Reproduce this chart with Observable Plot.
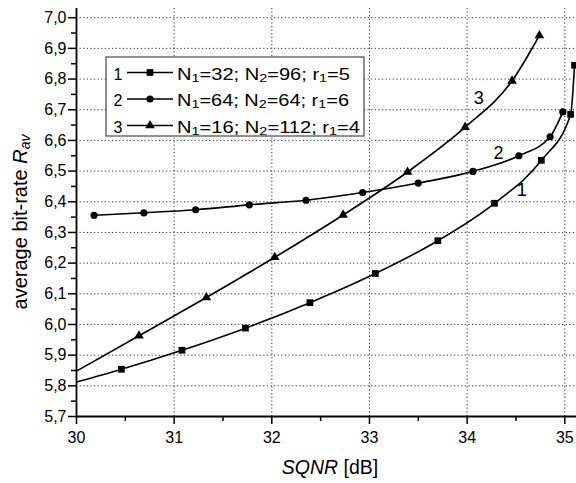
<!DOCTYPE html>
<html><head><meta charset="utf-8">
<script src="https://cdn.jsdelivr.net/npm/d3@7"></script>
<script src="https://cdn.jsdelivr.net/npm/@observablehq/plot@0.6"></script>
<style>body{margin:0;background:#fff} #chart svg{display:block}</style>
</head><body><div id="chart"></div>
<script>
// tick values
const xTicks = [30, 31, 32, 33, 34, 35];
const xMinorTicks = [30.5, 31.5, 32.5, 33.5, 34.5];
const yTicks = [5.7, 5.8, 5.9, 6.0, 6.1, 6.2, 6.3, 6.4, 6.5, 6.6, 6.7, 6.8, 6.9, 7.0];
const yMinorTicks = [5.75, 5.85, 5.95, 6.05, 6.15, 6.25, 6.35, 6.45, 6.55, 6.65, 6.75, 6.85, 6.95];

// series 1: N1=32; N2=96; r1=5 (squares)
const s1Start = [30, 5.812];
const s1X = [30.46, 31.08, 31.73, 32.39, 33.06, 33.70, 34.28, 34.76, 35.06, 35.10];
const s1Y = [5.854, 5.916, 5.988, 6.071, 6.166, 6.273, 6.395, 6.535, 6.685, 6.845];
// series 2: N1=64; N2=64; r1=6 (circles)
const s2X = [30.18, 30.69, 31.22, 31.77, 32.35, 32.93, 33.50, 34.06, 34.53, 34.85, 34.98];
const s2Y = [6.356, 6.364, 6.374, 6.390, 6.405, 6.430, 6.461, 6.499, 6.550, 6.612, 6.693];
// series 3: N1=16; N2=112; r1=4 (triangles)
const s3Start = [30, 5.848];
const s3X = [30.64, 31.33, 32.03, 32.73, 33.39, 33.98, 34.46, 34.74];
const s3Y = [5.963, 6.088, 6.219, 6.357, 6.497, 6.643, 6.794, 6.942];

// legend
const legendIds = ["1", "2", "3"];
const legendN1 = [32, 64, 16];
const legendN2 = [96, 64, 112];
const legendR1 = [5, 6, 4];
const legendSymbols = ["square", "circle", "triangle"];

// curve labels
const curveLabelText = ["1", "2", "3"];
const curveLabelX = [34.56, 34.32, 34.12];
const curveLabelY = [6.437, 6.559, 6.739];

const toPts = (xs, ys) => xs.map((x, i) => ({x, y: ys[i]}));
const pts1 = toPts(s1X, s1Y), pts2 = toPts(s2X, s2Y), pts3 = toPts(s3X, s3Y);
const line1 = [{x: s1Start[0], y: s1Start[1]}, ...pts1];
const line2 = pts2;
const line3 = [{x: s3Start[0], y: s3Start[1]}, ...pts3];
const curveLabels = curveLabelText.map((t, i) => ({t, x: curveLabelX[i], y: curveLabelY[i]}));

const FONT = "'Liberation Sans', Arial, Helvetica, sans-serif";
const fmt = d => d.toFixed(1).replace(".", ",");
const gridStyle = {stroke: "#333", strokeOpacity: 1, strokeWidth: 1, strokeDasharray: "1.2,2.4"};
const lineStyle = {x: "x", y: "y", curve: "monotone-x", stroke: "black", strokeWidth: 1.6};

const plot = Plot.plot({
  width: 576, height: 483,
  marginLeft: 76, marginRight: 0, marginTop: 8, marginBottom: 67,
  x: {domain: [30, 35.12], label: null},
  y: {domain: [5.7, 7.03], label: null},
  style: {fontFamily: FONT, fontSize: "16px", color: "black", background: "white"},
  marks: [
    Plot.gridX(xTicks, gridStyle),
    Plot.gridY(yTicks, gridStyle),
    Plot.line(line1, lineStyle),
    Plot.line(line2, lineStyle),
    Plot.line(line3, lineStyle),
    Plot.dot(pts1, {x: "x", y: "y", symbol: "square", r: 3.8, fill: "black"}),
    Plot.dot(pts2, {x: "x", y: "y", symbol: "circle", r: 3.6, fill: "black"}),
    Plot.dot(pts3, {x: "x", y: "y", symbol: "triangle", r: 3.6, fill: "black"}),
    Plot.text(curveLabels, {x: "x", y: "y", text: "t", fontSize: 18, fill: "black"}),
    Plot.axisX(xMinorTicks, {tickSize: 5, tickFormat: () => "", strokeWidth: 1.5, label: null}),
    Plot.axisX(xTicks, {tickSize: 8, tickPadding: 7, tickFormat: d => String(d), strokeWidth: 1.5, label: null}),
    Plot.axisY(yMinorTicks, {tickSize: 5, tickFormat: () => "", strokeWidth: 1.5, label: null}),
    Plot.axisY(yTicks, {tickSize: 8, tickPadding: 2, tickFormat: fmt, strokeWidth: 1.5, label: null}),
    Plot.ruleX([30], {stroke: "black", strokeWidth: 1.8}),
    Plot.ruleY([5.7], {stroke: "black", strokeWidth: 1.8})
  ]
});

const svg = d3.select(plot);

// axis titles
const xt = svg.append("text").attr("x", 330).attr("y", 474).attr("text-anchor", "middle")
  .attr("font-family", FONT).attr("font-size", 19.5).attr("fill", "black");
xt.append("tspan").attr("font-style", "italic").text("SQNR");
xt.append("tspan").text(" [dB]");

const yt = svg.append("text").attr("transform", "translate(27,222) rotate(-90)").attr("text-anchor", "middle")
  .attr("font-family", FONT).attr("font-size", 20).attr("fill", "black");
yt.append("tspan").text("average bit-rate ");
yt.append("tspan").attr("font-style", "italic").text("R");
yt.append("tspan").attr("font-style", "italic").attr("font-size", 14).attr("dy", 3).text("av");

// legend
const lg = svg.append("g").attr("font-family", FONT).attr("font-size", 16).attr("fill", "black")
  .attr("text-anchor", "start");
lg.append("rect").attr("x", 106).attr("y", 57).attr("width", 258).attr("height", 79)
  .attr("fill", "white").attr("stroke", "#555").attr("stroke-width", 1.3);
const symMap = {square: d3.symbolSquare, circle: d3.symbolCircle, triangle: d3.symbolTriangle};
const symR = {square: 3.8, circle: 3.6, triangle: 3.6};
const textLens = [173, 172, 183];
legendIds.forEach((id, i) => {
  const cy = 72.5 + 26.5 * i;
  lg.append("text").attr("x", 118).attr("y", cy + 7).attr("text-anchor", "middle").text(id);
  lg.append("line").attr("x1", 127).attr("x2", 173).attr("y1", cy).attr("y2", cy)
    .attr("stroke", "black").attr("stroke-width", 1.6);
  const s = legendSymbols[i];
  lg.append("path").attr("transform", `translate(150,${cy})`)
    .attr("d", d3.symbol(symMap[s], Math.PI * symR[s] * symR[s])()).attr("fill", "black");
  const t = lg.append("text").attr("x", 177).attr("y", cy + 7).attr("text-anchor", "start")
    .attr("textLength", textLens[i]).attr("lengthAdjust", "spacingAndGlyphs");
  const sub = (txt) => { t.append("tspan").attr("font-size", 11.5).attr("dy", 2).text(txt); };
  const main = (txt) => { t.append("tspan").attr("dy", -2).text(txt); };
  t.append("tspan").text("N");
  sub("1"); main(`=${legendN1[i]}; N`);
  sub("2"); main(`=${legendN2[i]}; r`);
  sub("1"); main(`=${legendR1[i]}`);
});

document.getElementById("chart").appendChild(plot);
</script>
</body></html>
